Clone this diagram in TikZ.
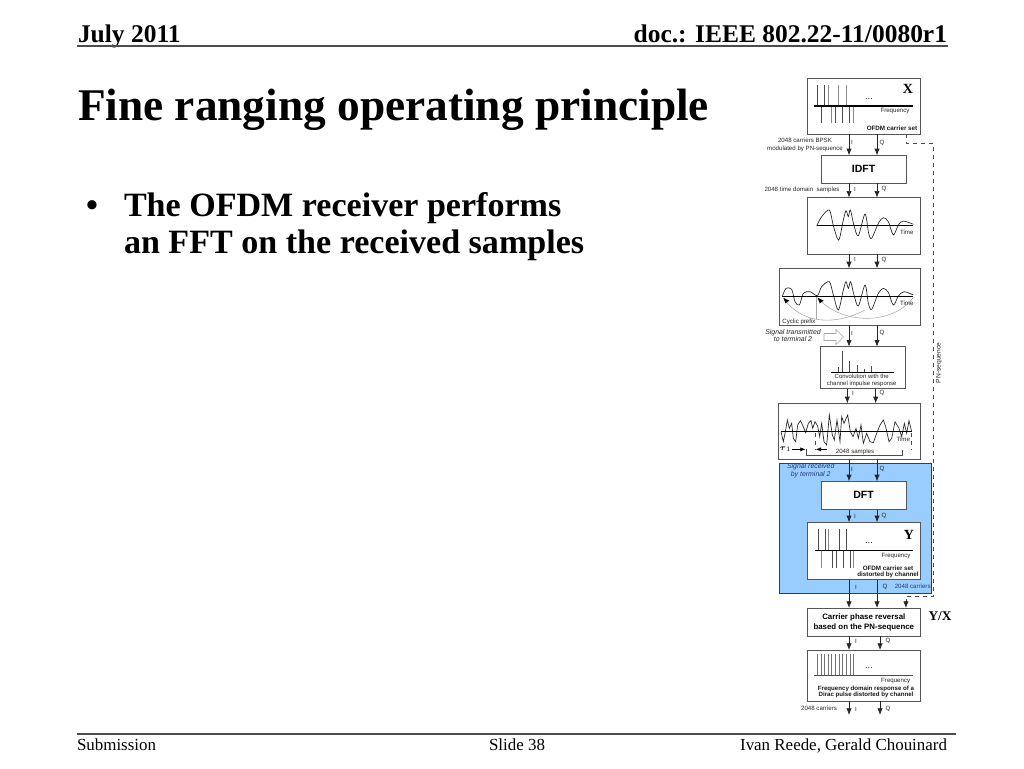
\documentclass[tikz,border=0pt]{standalone}
\usepackage{amsmath}
\usepackage{amssymb}
\usepackage{fontspec}
\setmainfont{Liberation Serif}
\setsansfont{Liberation Sans}
\usetikzlibrary{arrows.meta}
\definecolor{rxblue}{HTML}{99CCFF}
\definecolor{rxnavy}{HTML}{1F3F7F}
\definecolor{boxgray}{HTML}{555555}
\definecolor{stemgray}{HTML}{8A8A8A}

\begin{document}
\begin{tikzpicture}[x=0.75pt, y=-0.75pt]

%STYLES
\tikzstyle{every node}=[inner sep=0pt, outer sep=0pt, align=center]
\tikzstyle{blockbox}=[draw=boxgray, line width=0.6pt, fill=white, font=\sffamily\bfseries\fontsize{5.9}{8}\selectfont]
\tikzstyle{flow}=[line width=0.55pt, draw=black!85, -{Latex[length=5pt,width=4pt]}]
\tikzstyle{tiny label}=[font=\sffamily\fontsize{4.6}{6}\selectfont, text=black!85]
\tikzstyle{bold label}=[font=\sffamily\bfseries\fontsize{4.7}{4.6}\selectfont, text=black!90]
\tikzstyle{italic label}=[font=\sffamily\itshape\fontsize{5.2}{5.6}\selectfont, text=black!85]
\tikzstyle{symbol}=[font=\rmfamily\bfseries\fontsize{10.5}{12}\selectfont]
\tikzstyle{header}=[anchor=base west, font=\rmfamily\bfseries\fontsize{19.1}{21}\selectfont]
\tikzstyle{footer}=[anchor=base west, font=\rmfamily\fontsize{12.7}{14}\selectfont]
\tikzstyle{bullet text}=[anchor=base west, font=\rmfamily\bfseries\fontsize{25.55}{28}\selectfont]
\tikzstyle{stem}=[line width=0.6pt, draw=black!70]
\tikzstyle{stem light}=[line width=0.6pt, draw=stemgray]
\tikzstyle{axis}=[line width=0.8pt, draw=black]
\tikzstyle{wave}=[line width=0.5pt, draw=black!85]
\tikzstyle{dots}=[font=\sffamily\fontsize{7}{7}\selectfont, text=black!85]

\useasboundingbox (0,0) rectangle (1024,768);

%SLIDE FRAME
\node[header] (date) at (78,42) {July 2011};
\node[header, anchor=base east] (docid) at (947,42) {doc.: IEEE 802.22-11/0080r1};
\node[anchor=base west, font=\rmfamily\bfseries\fontsize{34}{38}\selectfont] (title) at (78,120) {Fine ranging operating principle};
\node[bullet text] (dot) at (86,216) {•};
\node[bullet text] (lineA) at (124,216) {The OFDM receiver performs};
\node[bullet text] (lineB) at (124,253.5) {an FFT on the received samples};
\node[footer] (submission) at (77,750) {Submission};
\node[footer] (slide) at (489,750) {Slide 38};
\node[footer, anchor=base east] (names) at (947,750) {Ivan Reede, Gerald Chouinard};
\coordinate (headL) at (77,45.7);
\coordinate (headR) at (948,45.7);
\coordinate (footL) at (77,734);
\coordinate (footR) at (956,734);
\draw[line width=1.4pt, draw=black!70] (headL) -- (headR);
\draw[line width=1.4pt, draw=black!70] (footL) -- (footR);

%BLOCKS
\node[draw=rxnavy, line width=0.7pt, fill=rxblue, minimum width=114pt, minimum height=98pt] (rxzone) at (855.3,528.3) {};
\node[blockbox, minimum width=84.75pt, minimum height=41.8pt] (boxX) at (863.8,106.2) {};
\node[blockbox, minimum width=63.5pt, minimum height=21pt, font=\sffamily\bfseries\fontsize{7.9}{9}\selectfont] (idft) at (863.6,169.3) {IDFT};
\node[blockbox, minimum width=84.75pt, minimum height=42.5pt] (boxTime) at (863.8,226) {};
\node[blockbox, minimum width=105.75pt, minimum height=42.75pt] (boxCyc) at (850.2,296.8) {};
\node[blockbox, minimum width=63.75pt, minimum height=31.5pt] (boxConv) at (862.5,367.7) {};
\node[blockbox, minimum width=106.2pt, minimum height=42pt] (boxRx) at (849.5,431.3) {};
\node[blockbox, draw=none, minimum width=63.5pt, minimum height=21pt, font=\sffamily\bfseries\fontsize{7.9}{9}\selectfont] (dft) at (863.6,495.3) {DFT};
\node[blockbox, draw=none, minimum width=84.75pt, minimum height=42.75pt] (boxY) at (863.8,550.8) {};
\node[blockbox, minimum width=84.75pt, minimum height=21pt] (boxRev) at (863.8,622) {Carrier phase reversal\\[-0.5pt]based on the PN-sequence};
\node[blockbox, minimum width=84.75pt, minimum height=38.25pt] (boxFreq) at (863.8,675.5) {};
\coordinate (outBottom) at (0,715);

%CONNECTORS
\foreach \from/\to/\xi/\xq in {boxX/idft/849/877, idft/boxTime/849/877, boxTime/boxCyc/849/877,
		boxCyc/boxConv/849/877, boxConv/boxRx/847.3/875.7, boxRx/dft/849/877, dft/boxY/849/877,
		boxY/boxRev/849/877, boxRev/boxFreq/849/880, boxFreq/outBottom/849/880}{
	\draw[flow] (\xi,0 |- \from.south) -- (\xi,0 |- \to.north);
	\draw[flow] (\xq,0 |- \from.south) -- (\xq,0 |- \to.north);
}
\coordinate (pnTop) at (933.3,143);
\coordinate (pnBottom) at (933.3,596);
\draw[line width=0.5pt, draw=black!70, dashed] (idft.east |- boxX.south) |- (pnTop) -- (pnBottom) -| (idft.east |- 0,602);
\draw[flow] (idft.east |- 0,600) -- (idft.east |- boxRev.north);

%I AND Q
\foreach \n/\xi/\xq/\y in {a/852/882/142.5, b/855/884/189, c/855/884/259.5, d/852/882/333,
		e/853/882/393, f/852/882/469, g/855/884/516, h/856/885/587, j/856/888/641, k/856/888/709}{
	\node[tiny label] (i\n) at (\xi,\y) {I};
	\node[tiny label] (q\n) at (\xq,\y) {Q};
}

%SPECTRUM X
\foreach \x in {817.3,824.7}{\draw[stem] (\x,85) -- (\x,106);}
\foreach \x in {828.3,838.7,846}{\draw[stem light] (\x,85) -- (\x,106);}
\foreach \x in {821.3,835,842.3,849.3}{\draw[stem] (\x,106) -- (\x,123);}
\foreach \x in {831.7,853}{\draw[stem light] (\x,106) -- (\x,123);}
\draw[axis] (814,106) -- (912.7,106);
\node[dots] (dotsX) at (869,99) {...};
\node[tiny label] (freqX) at (895,111.5) {Frequency};
\node[bold label] (carrierX) at (892,128.7) {OFDM carrier set};
\node[symbol] (symX) at (908,89) {X};
\node[tiny label] (bpsk) at (805,145) {2048 carriers BPSK\\modulated by PN-sequence};
\node[tiny label] (samples) at (802,190) {2048 time domain\ \ samples};

%TIME WAVEFORM
\begin{scope}[shift={(750,70)}, x=0.25pt, y=-0.25pt]
\draw[wave] plot[smooth, tension=0.5] coordinates {(200,467) (215,440) (238,420) (250,467) (266,510) (280,450) (288,422) (295,440) (301,420) (312,467) (325,497) (345,432) (356,490) (365,505) (385,460) (400,443) (415,455) (430,495) (445,465) (460,453) (490,463)};
\draw[axis] (200,467) -- (490,467);
\end{scope}
\node[tiny label] (timeA) at (906.7,232.7) {Time};

%CYCLIC PREFIX
\begin{scope}[shift={(750,260)}, x=0.25pt, y=-0.25pt]
\draw[line width=0.4pt, draw=black!35] (200,110) -- (200,178);
\draw[line width=0.4pt, draw=black!35] (345,150) .. controls (260,195) and (160,195) .. (103,118);
\draw[line width=0.4pt, draw=black!35] (490,112) .. controls (430,195) and (280,195) .. (207,118);
\draw[wave] plot[smooth, tension=0.5] coordinates {(97,109) (108,85) (125,88) (135,125) (148,135) (160,100) (180,95) (202,107) (215,80) (238,65) (250,105) (265,150) (280,90) (288,65) (295,85) (302,65) (312,105) (325,138) (345,75) (355,130) (365,148) (385,100) (400,85) (415,97) (430,135) (445,108) (462,95) (490,105)};
\draw[axis] (97,109) -- (490,109);
\fill[black] (100,113) -- (118,122) -- (106,130) -- cycle;
\fill[black] (203,113) -- (221,122) -- (209,130) -- cycle;
\end{scope}
\node[tiny label] (timeB) at (906.7,303.7) {Time};
\node[tiny label] (prefix) at (799,321.7) {Cyclic prefix};
\node[italic label] (sent) at (793,335.5) {Signal transmitted\\to terminal 2};
\draw[line width=0.4pt, draw=black!35, fill=white] (824,333.5) -- (836,333.5) -- (836,329.5) -- (843.5,337) -- (836,344.5) -- (836,340.5) -- (824,340.5) -- cycle;

%CHANNEL IMPULSE RESPONSE
\begin{scope}[shift={(750,260)}, x=0.25pt, y=-0.25pt]
\foreach \x/\y in {265/322, 276/272, 298/303, 321/316, 343/326, 364/318}{\draw[stem] (\x,\y) -- (\x,337);}
\draw[axis] (243,337) -- (432,337);
\end{scope}
\node[tiny label, font=\sffamily\fontsize{4.5}{4.9}\selectfont] (convtext) at (861.7,380.5) {Convolution with the\\channel impulse response};

%RECEIVED WAVEFORM
\begin{scope}[shift={(775,400)}, x=0.25pt, y=-0.25pt]
\draw[wave] plot coordinates {(18,95) (25,125) (32,90) (37,60) (43,85) (50,70) (55,115) (62,125) (68,75) (76,62) (84,78) (92,98) (100,70) (108,62) (113,85) (120,65) (128,78) (134,110) (140,70) (147,125) (155,135) (163,45) (172,105) (178,120) (186,60) (195,125) (200,50) (207,70) (218,45) (226,95) (234,110) (243,85) (250,115) (258,75) (265,130) (275,100) (285,125) (295,128) (305,100) (315,75) (325,60) (332,80) (342,125) (350,115) (360,65) (372,85) (380,110) (388,70) (395,100) (402,62) (410,95)};
\draw[axis] (18,95) -- (410,95);
\draw[line width=0.4pt, draw=black!70, dashed] (120,100) -- (120,150);
\draw[line width=0.4pt, draw=black!70, dashed] (410,100) -- (410,150);
\draw[line width=0.4pt, draw=black!70] (95,148) -- (95,165) -- (383,165) -- (383,150);
\draw[line width=0.5pt, -{Latex[length=4pt,width=3pt]}] (50,148) -- (92,148);
\draw[line width=0.5pt, -{Latex[length=4pt,width=3pt]}] (155,148) -- (122,148);
\end{scope}
\node[tiny label] (timeC) at (903.3,439) {Time};
\node[font=\fontsize{6}{6}\selectfont] (tauA) at (785.5,449.3) {$\boldsymbol{\tau}_{\scriptscriptstyle 1}$};
\node[tiny label] (rxcount) at (855,451.8) {2048 samples};

%RECEIVER ZONE
\node[italic label, text=rxnavy] (received) at (810.7,470.5) {Signal received\\by terminal 2};
\node[tiny label, text=rxnavy] (carriersB) at (912.7,586.7) {2048 carriers};
\draw[draw=boxgray, line width=0.6pt] (dft.south west) rectangle (dft.north east);
\draw[draw=boxgray, line width=0.6pt] (boxY.south west) rectangle (boxY.north east);

%SPECTRUM Y
\foreach \x in {818.3,825.3,839.3,846.3}{\draw[stem] (\x,529) -- (\x,550.7);}
\foreach \x in {828.7}{\draw[stem light] (\x,529) -- (\x,550.7);}
\foreach \x in {832.3,836,843,850}{\draw[stem] (\x,550.7) -- (\x,568);}
\foreach \x in {821.7,853.3}{\draw[stem light] (\x,550.7) -- (\x,568);}
\draw[axis] (815,550.7) -- (913,550.7);
\node[dots] (dotsY) at (869,543) {...};
\node[tiny label] (freqY) at (896,555.7) {Frequency};
\node[bold label, font=\sffamily\bfseries\fontsize{4.7}{4.8}\selectfont] (carrierY) at (888,571.6) {OFDM carrier set\\distorted by channel};
\node[symbol] (symY) at (909,535) {Y};

%REVERSAL RESULT
\node[symbol, font=\rmfamily\bfseries\fontsize{10}{12}\selectfont] (symYX) at (940,615.7) {Y/X};
\foreach \n in {0,...,10}{\draw[stem light, draw=black!55] ({817.3+\n*3.64},654) -- ({817.3+\n*3.64},675.7);}
\draw[axis, draw=black!70] (814,675.7) -- (913,675.7);
\node[dots] (dotsF) at (869,668) {...};
\node[tiny label] (freqF) at (895.7,680.7) {Frequency};
\node[bold label, font=\sffamily\bfseries\fontsize{4.6}{4.6}\selectfont] (respF) at (866,692) {Frequency domain response of a\\Dirac pulse distorted by channel};
\node[tiny label] (carriersC) at (819,708) {2048 carriers};
\node[tiny label, rotate=90, font=\sffamily\fontsize{5}{6}\selectfont] (pnlabel) at (939,363) {PN-sequence};

\end{tikzpicture}
\end{document}
